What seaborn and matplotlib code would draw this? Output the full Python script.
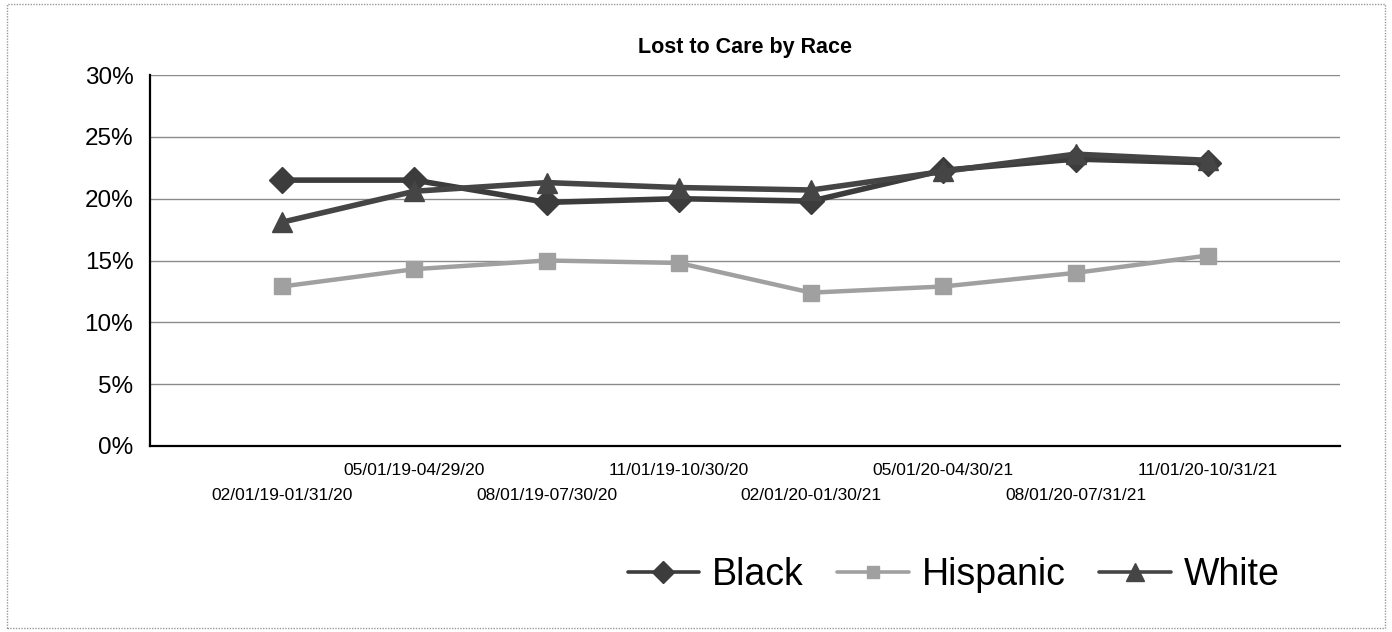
import numpy as np
import pandas as pd
import matplotlib
matplotlib.use("Agg")
import matplotlib.pyplot as plt
import matplotlib.patches as mpatches
import seaborn as sns

# data (percent)
periods = ["02/01/19-01/31/20", "05/01/19-04/29/20", "08/01/19-07/30/20",
           "11/01/19-10/30/20", "02/01/20-01/30/21", "05/01/20-04/30/21",
           "08/01/20-07/31/21", "11/01/20-10/31/21"]
black = [21.5, 21.5, 19.7, 20.0, 19.8, 22.3, 23.2, 22.9]
hispanic = [12.9, 14.3, 15.0, 14.8, 12.4, 12.9, 14.0, 15.4]
white = [18.1, 20.6, 21.3, 20.9, 20.7, 22.2, 23.6, 23.1]
y_ticks = [0, 5, 10, 15, 20, 25, 30]


def main():
    sns.set_style("white")
    plt.rcParams["font.family"] = ["Liberation Sans", "DejaVu Sans"]
    plt.rcParams["text.color"] = "black"
    plt.rcParams["xtick.color"] = "black"
    plt.rcParams["ytick.color"] = "black"

    pos = np.arange(1, len(periods) + 1)
    df = pd.DataFrame({"pos": pos, "Black": black, "Hispanic": hispanic, "White": white})

    fig = plt.figure(figsize=(13.92, 6.32), dpi=100)
    ax = fig.add_axes([150 / 1392, 186 / 632, 1190 / 1392, 371 / 632])

    styles = {
        "Black": dict(color="#3c3c3c", marker="D", markersize=13, linewidth=4),
        "Hispanic": dict(color="#a0a0a0", marker="s", markersize=11, linewidth=3.2),
        "White": dict(color="#454545", marker="^", markersize=15, linewidth=4),
    }
    for name in ["Black", "Hispanic", "White"]:
        st = styles[name]
        sns.lineplot(data=df, x="pos", y=name, ax=ax, label=name,
                     color=st["color"], marker=st["marker"], markersize=st["markersize"],
                     linewidth=st["linewidth"], markeredgecolor=st["color"],
                     markeredgewidth=1, legend=False)

    ax.set_xlim(0, 9)
    ax.set_ylim(0, 30)
    ax.set_yticks(y_ticks)
    ax.set_yticklabels([f"{v}%" for v in y_ticks], fontsize=17.5)
    ax.set_xticks(np.arange(0, 10))
    ax.set_xticklabels([""] + periods + [""], fontsize=12.5)
    ax.set_xlabel("")
    ax.set_ylabel("")

    ax.grid(axis="y", color="#8a8a8a", linewidth=1)
    ax.grid(axis="x", visible=False)
    ax.set_axisbelow(True)
    for side in ["top", "right"]:
        ax.spines[side].set_visible(False)
    for side in ["left", "bottom"]:
        ax.spines[side].set_color("black")
        ax.spines[side].set_linewidth(1.6)
    ax.tick_params(axis="y", direction="out", length=9, width=1.2, color="black", pad=3)
    ax.tick_params(axis="x", direction="out", length=4, width=1.2, color="black")

    # staggered category labels
    ticks = ax.xaxis.get_major_ticks()
    for i, t in enumerate(ticks):
        if i % 2 == 1:
            t.set_pad(26)
        else:
            t.set_pad(8)

    ax.set_title("Lost to Care by Race", fontsize=15.5, fontweight="bold", pad=16)

    handles, labels = ax.get_legend_handles_labels()
    leg = fig.legend(handles, labels, loc="center", bbox_to_anchor=(0.685, 0.09), ncol=3,
                     frameon=False, fontsize=27, handlelength=1.9, handletextpad=0.35,
                     columnspacing=0.9)
    for h in leg.legend_handles:
        h.set_linewidth(2.6)
        h.set_markersize(h.get_markersize() * 0.85)

    border = mpatches.Rectangle((7 / 1392, 4 / 632), 1378 / 1392, 624 / 632,
                                transform=fig.transFigure, fill=False,
                                edgecolor="#9a9a9a", linewidth=1, linestyle=(0, (1, 1)))
    fig.patches.append(border)

    fig.savefig("out.png", dpi=100)
    plt.close(fig)


if __name__ == "__main__":
    main()
